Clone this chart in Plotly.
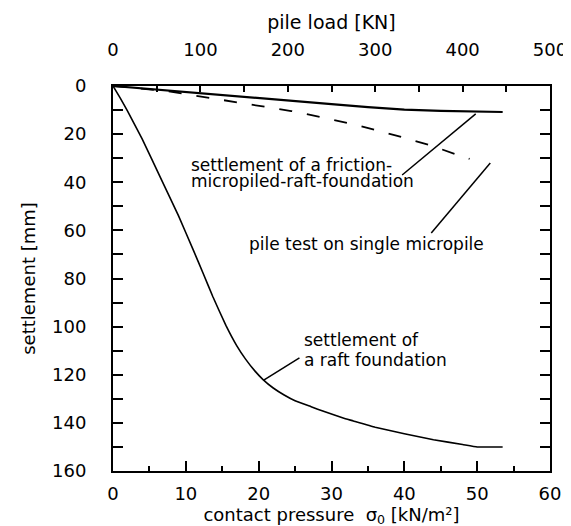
import plotly.graph_objects as go

# contact pressure [kN/m²] vs settlement [mm] for raft foundation
raft_p = [0, 1, 2, 4, 6.5, 9, 11, 12.4, 13.7, 15.5, 17, 18.2, 19.5, 20.6, 22, 23.5, 25,
          27.2, 29, 31.6, 33, 36, 40, 44, 48, 50, 53.5]
raft_s = [0, 5, 10.4, 22, 38, 54, 68, 78, 87.5, 99.5, 108, 113.5, 118.5, 122, 125.5, 128.4, 130.8,
          133.3, 135.3, 138, 139.2, 141.8, 144.5, 147, 149, 150, 150]

# friction micropiled raft foundation
fric_p = [0, 5, 10, 15, 20, 25, 30, 35, 40, 45, 50, 53.5]
fric_s = [0, 1.2, 2.4, 3.6, 4.8, 6.1, 7.5, 8.8, 9.8, 10.3, 10.6, 10.8]

# pile test on single micropile: pile load [kN] vs settlement [mm]
pile_load = [0, 62, 125, 167, 204, 243, 283, 322, 361, 398, 408]
pile_s = [0, 2.1, 5.8, 8.4, 10.4, 13.3, 16.6, 20.4, 24.4, 29.1, 30.3]

x_ticks = [0, 10, 20, 30, 40, 50, 60]
top_ticks = [0, 100, 200, 300, 400, 500]
y_ticks = [0, 20, 40, 60, 80, 100, 120, 140, 160]

FONT = "DejaVu Sans"

fig = go.Figure()
fig.add_trace(go.Scatter(x=raft_p, y=raft_s, mode="lines", line_shape="spline",
                         line=dict(color="black", width=1.6, smoothing=0.3), showlegend=False))
fig.add_trace(go.Scatter(x=fric_p, y=fric_s, mode="lines",
                         line=dict(color="black", width=2.2), showlegend=False))
fig.add_trace(go.Scatter(x=pile_load, y=pile_s, mode="lines", xaxis="x2",
                         line=dict(color="black", width=1.8, dash="13px,15px"),
                         showlegend=False))

axis_common = dict(showgrid=False, zeroline=False, showline=True, linecolor="black",
                   linewidth=2, ticks="inside", tickcolor="black", tickwidth=1.5,
                   tickfont=dict(family=FONT, size=18, color="black"))

fig.update_layout(
    width=571, height=526,
    margin=dict(l=105, r=20, t=78, b=63),
    paper_bgcolor="white", plot_bgcolor="white",
    font=dict(family=FONT, color="black"),
    xaxis=dict(range=[0, 60], tickvals=x_ticks, ticklen=10,
               minor=dict(dtick=5, ticklen=5, ticks="inside", tickcolor="black", tickwidth=1.5),
               ticklabelstandoff=5,
               title=dict(text="contact pressure  σ<sub>0</sub> [kN/m²]",
                          font=dict(family=FONT, size=18), standoff=0),
               **axis_common),
    xaxis2=dict(range=[0, 500], overlaying="x", side="top", tickvals=top_ticks, ticklen=6,
                minor=dict(dtick=50, ticklen=6, ticks="inside", tickcolor="black", tickwidth=1.5),
                ticklabelstandoff=21,
                title=dict(text="pile load [KN]", font=dict(family=FONT, size=19), standoff=4),
                **axis_common),
    yaxis=dict(range=[160, 0], tickvals=y_ticks, ticklen=10, mirror="ticks",
               minor=dict(dtick=10, ticklen=10, ticks="inside", tickcolor="black", tickwidth=1.5),
               ticklabelstandoff=21,
               title=dict(text="settlement [mm]", font=dict(family=FONT, size=18), standoff=12),
               **axis_common),
)

ann_font = dict(family=FONT, size=17, color="black")
labels = [
    ("settlement of a friction-", 10.4, 32.8),
    ("micropiled-raft-foundation", 10.4, 39.5),
    ("pile test on single micropile", 18.4, 65.7),
    ("settlement of", 26.0, 105.6),
    ("a raft foundation", 26.0, 113.9),
]
for txt, ax_, ay_ in labels:
    fig.add_annotation(x=ax_, y=ay_, xref="x", yref="y", text=txt, showarrow=False,
                       xanchor="left", yanchor="middle", font=ann_font)

leaders = [
    ((39.7, 37.0), (49.8, 11.6)),
    ((43.7, 61.1), (51.8, 32.0)),
    ((25.6, 113.0), (20.7, 122.2)),
]
for (x0, y0), (x1, y1) in leaders:
    fig.add_shape(type="line", xref="x", yref="y", x0=x0, y0=y0, x1=x1, y1=y1,
                  line=dict(color="black", width=1.5))

fig.write_html("out.html")
